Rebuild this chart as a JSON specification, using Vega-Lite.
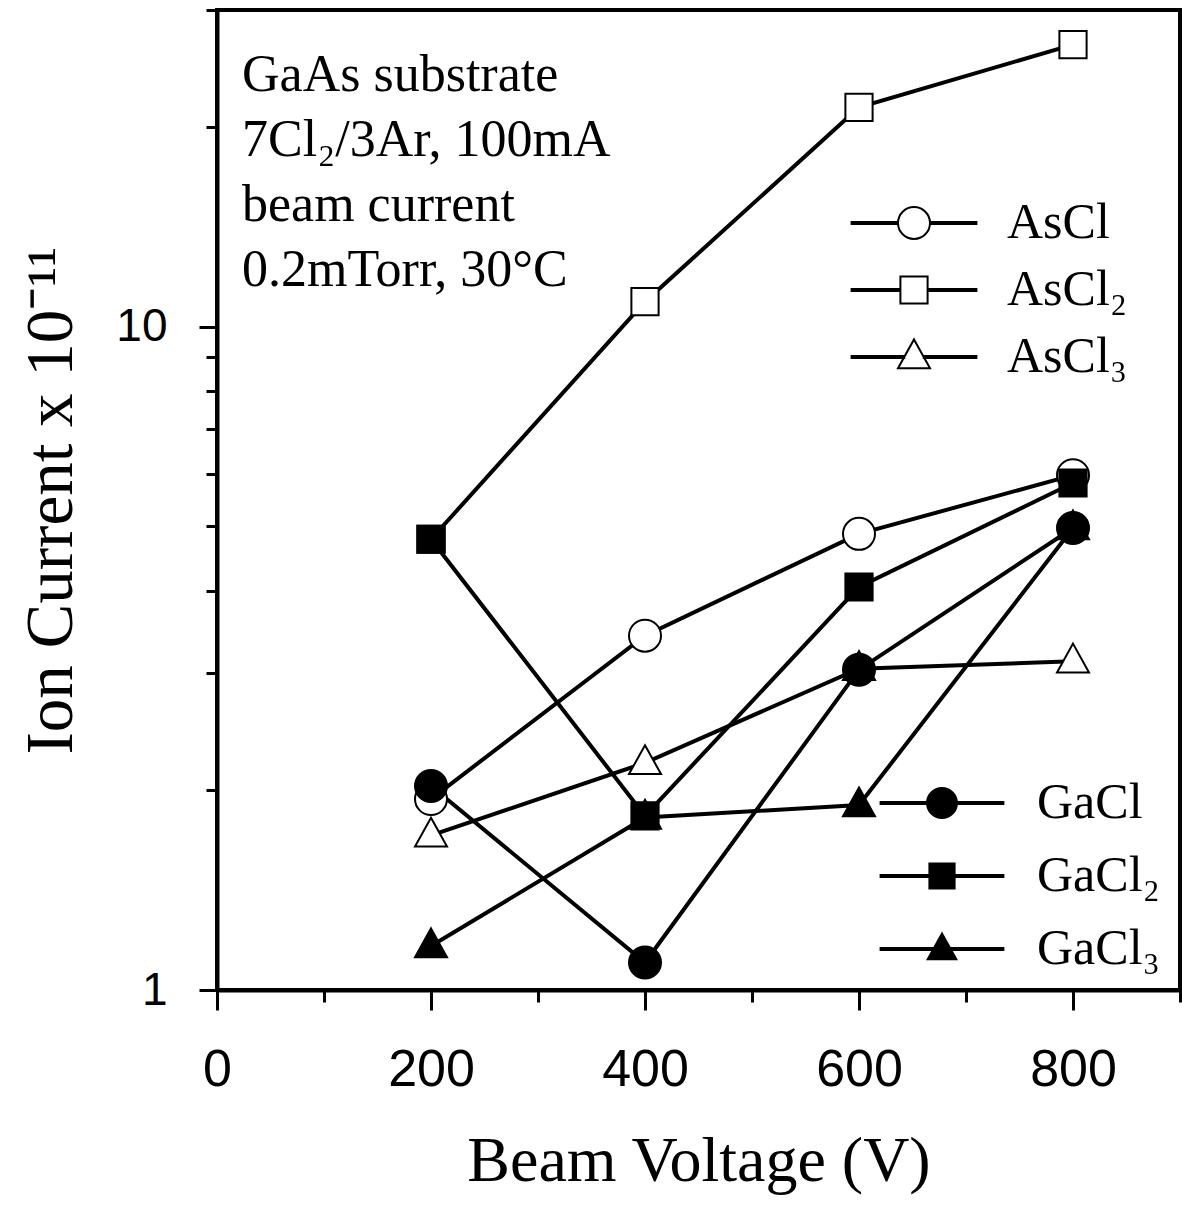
{
  "$schema": "https://vega.github.io/schema/vega-lite/v6.json",
  "width": 963,
  "height": 980,
  "autosize": {"type": "none"},
  "padding": {"left": 217, "top": 10, "right": 2, "bottom": 215},
  "background": "white",
  "title": {
    "text": ["GaAs substrate", "7Cl₂/3Ar, 100mA", "beam current", "0.2mTorr, 30°C"],
    "orient": "top", "anchor": "start", "frame": "group", "align": "left",
    "baseline": "alphabetic", "offset": 0, "dx": 25, "dy": 329,
    "font": "Liberation Serif", "fontSize": 52, "fontWeight": "normal",
    "lineHeight": 65, "color": "black"
  },
  "config": {
    "view": {"stroke": "black", "strokeWidth": 4},
    "font": "Liberation Serif",
    "axis": {
      "domainColor": "black", "domainWidth": 4,
      "tickColor": "black", "tickWidth": 3,
      "grid": false, "labelFlush": false,
      "labelColor": "black", "titleColor": "black",
      "labelFont": "Liberation Sans", "titleFont": "Liberation Serif",
      "titleFontWeight": "normal"
    },
    "legend": {
      "labelFont": "Liberation Serif", "labelFontSize": 50, "labelColor": "black",
      "symbolSize": 1024, "symbolStrokeWidth": 2, "symbolStrokeColor": "black",
      "symbolOpacity": 1, "padding": 0, "title": null
    }
  },
  "data": {
    "values": [
      {"series": "AsCl", "group": "As", "voltage": 200, "current": 1.94},
      {"series": "AsCl", "group": "As", "voltage": 400, "current": 3.42},
      {"series": "AsCl", "group": "As", "voltage": 600, "current": 4.87},
      {"series": "AsCl", "group": "As", "voltage": 800, "current": 5.97},
      {"series": "AsCl2", "group": "As", "voltage": 200, "current": 4.78},
      {"series": "AsCl2", "group": "As", "voltage": 400, "current": 10.9},
      {"series": "AsCl2", "group": "As", "voltage": 600, "current": 21.4},
      {"series": "AsCl2", "group": "As", "voltage": 800, "current": 26.6},
      {"series": "AsCl3", "group": "As", "voltage": 200, "current": 1.71},
      {"series": "AsCl3", "group": "As", "voltage": 400, "current": 2.2},
      {"series": "AsCl3", "group": "As", "voltage": 600, "current": 3.05},
      {"series": "AsCl3", "group": "As", "voltage": 800, "current": 3.13},
      {"series": "GaCl", "group": "Ga", "voltage": 200, "current": 2.03},
      {"series": "GaCl", "group": "Ga", "voltage": 400, "current": 1.1},
      {"series": "GaCl", "group": "Ga", "voltage": 600, "current": 3.04},
      {"series": "GaCl", "group": "Ga", "voltage": 800, "current": 4.97},
      {"series": "GaCl2", "group": "Ga", "voltage": 200, "current": 4.78},
      {"series": "GaCl2", "group": "Ga", "voltage": 400, "current": 1.83},
      {"series": "GaCl2", "group": "Ga", "voltage": 600, "current": 4.05},
      {"series": "GaCl2", "group": "Ga", "voltage": 800, "current": 5.81},
      {"series": "GaCl3", "group": "Ga", "voltage": 200, "current": 1.165},
      {"series": "GaCl3", "group": "Ga", "voltage": 400, "current": 1.82},
      {"series": "GaCl3", "group": "Ga", "voltage": 600, "current": 1.9},
      {"series": "GaCl3", "group": "Ga", "voltage": 800, "current": 4.97}
    ]
  },
  "encoding": {
    "x": {
      "field": "voltage", "type": "quantitative",
      "scale": {"domain": [0, 900], "nice": false, "zero": false},
      "axis": {
        "values": [0, 100, 200, 300, 400, 500, 600, 700, 800, 900],
        "labelExpr": "datum.value % 200 == 0 ? datum.label : ''",
        "tickSize": {"condition": {"test": "datum.value % 200 == 0", "value": 20}, "value": 12},
        "labelFontSize": 52, "labelPadding": 34,
        "title": "Beam Voltage (V)", "titleFontSize": 64, "titlePadding": 34
      }
    },
    "y": {
      "field": "current", "type": "quantitative",
      "scale": {"type": "log", "domain": [1, 30], "nice": false},
      "axis": {
        "values": [1, 2, 3, 4, 5, 6, 7, 8, 9, 10, 20, 30],
        "labelExpr": "datum.value == 1 || datum.value == 10 ? datum.value : ''",
        "tickSize": {"condition": {"test": "datum.value == 1 || datum.value == 10", "value": 18}, "value": 11},
        "labelFontSize": 46, "labelPadding": 32,
        "title": "Ion Current x 10⁻¹¹", "titleFontSize": 67, "titlePadding": 30
      }
    }
  },
  "layer": [
    {
      "mark": {"type": "line", "color": "black", "strokeWidth": 4},
      "encoding": {"detail": {"field": "series", "type": "nominal"}}
    },
    {
      "transform": [{"filter": "datum.group == 'As'"}],
      "mark": {"type": "point", "filled": true, "fill": "white", "stroke": "black", "strokeWidth": 2, "opacity": 1, "size": 1024},
      "encoding": {
        "shape": {
          "field": "series", "type": "nominal",
          "scale": {
            "domain": ["AsCl", "AsCl2", "AsCl3"],
            "range": ["M1,0 A1,1 0 1,1 -1,0 A1,1 0 1,1 1,0 Z", "M-0.85,-0.85 H0.85 V0.85 H-0.85 Z", "M0,-1.1 L1,0.7 L-1,0.7 Z"]
          },
          "legend": null
        }
      }
    },
    {
      "transform": [{"filter": "datum.group == 'Ga'"}],
      "mark": {"type": "point", "filled": true, "fill": "black", "stroke": "black", "strokeWidth": 2, "opacity": 1, "size": 1024},
      "encoding": {
        "shape": {
          "field": "series", "type": "nominal",
          "scale": {
            "domain": ["GaCl", "GaCl2", "GaCl3"],
            "range": ["M1,0 A1,1 0 1,1 -1,0 A1,1 0 1,1 1,0 Z", "M-0.85,-0.85 H0.85 V0.85 H-0.85 Z", "M0,-1.1 L1,0.7 L-1,0.7 Z"]
          },
          "legend": null
        }
      }
    },
    {
      "transform": [{"filter": "datum.group == 'As' && datum.voltage < 0"}],
      "mark": {"type": "point", "filled": false, "color": "black", "stroke": "black", "strokeWidth": 2, "opacity": 1, "size": 1024},
      "encoding": {
        "shape": {
          "field": "series", "type": "nominal",
          "scale": {
            "domain": ["AsCl", "AsCl2", "AsCl3"],
            "range": [
              "M-3.9,-0.055 H-1 V0.055 H-3.9 Z M1,-0.055 H3.9 V0.055 H1 Z M1,0 A1,1 0 1,1 -1,0 A1,1 0 1,1 1,0 Z",
              "M-3.9,-0.055 H-0.85 V0.055 H-3.9 Z M0.85,-0.055 H3.9 V0.055 H0.85 Z M-0.85,-0.85 H0.85 V0.85 H-0.85 Z",
              "M-3.9,-0.055 H-0.61 V0.055 H-3.9 Z M0.61,-0.055 H3.9 V0.055 H0.61 Z M0,-1.1 L1,0.7 L-1,0.7 Z"
            ]
          },
          "legend": {
            "orient": "none", "legendX": 672, "legendY": 188,
            "labelOffset": 68, "rowPadding": 17,
            "symbolFillColor": "white", "symbolStrokeColor": "black",
            "labelExpr": "replace(replace(datum.label, '2', '₂'), '3', '₃')"
          }
        }
      }
    },
    {
      "transform": [{"filter": "datum.group == 'Ga' && datum.voltage < 0"}],
      "mark": {"type": "point", "filled": true, "color": "black", "opacity": 1, "size": 1024},
      "encoding": {
        "shape": {
          "field": "series", "type": "nominal",
          "scale": {
            "domain": ["GaCl", "GaCl2", "GaCl3"],
            "range": [
              "M-3.9,-0.125 H-0.9 V0.125 H-3.9 Z M0.9,-0.125 H3.9 V0.125 H0.9 Z M1,0 A1,1 0 1,1 -1,0 A1,1 0 1,1 1,0 Z",
              "M-3.9,-0.125 H-0.8 V0.125 H-3.9 Z M0.8,-0.125 H3.9 V0.125 H0.8 Z M-0.85,-0.85 H0.85 V0.85 H-0.85 Z",
              "M-3.9,-0.125 H-0.55 V0.125 H-3.9 Z M0.55,-0.125 H3.9 V0.125 H0.55 Z M0,-1.1 L1,0.7 L-1,0.7 Z"
            ]
          },
          "legend": {
            "orient": "none", "legendX": 700, "legendY": 768,
            "labelOffset": 70, "rowPadding": 23,
            "symbolFillColor": "black",
            "labelExpr": "replace(replace(datum.label, '2', '₂'), '3', '₃')"
          }
        }
      }
    }
  ],
  "resolve": {"scale": {"shape": "independent"}, "legend": {"shape": "independent"}}
}
